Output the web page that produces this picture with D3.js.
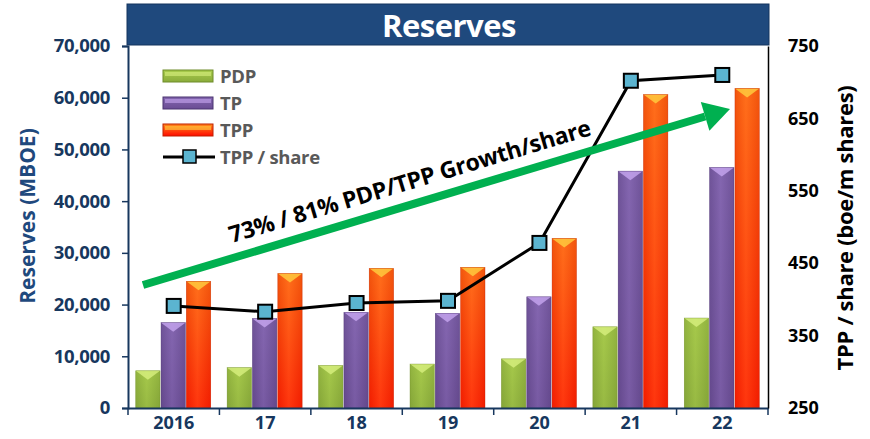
<!DOCTYPE html>
<html>
<head>
<meta charset="utf-8">
<script src="https://cdn.jsdelivr.net/npm/d3@7"></script>
<style>
  body { margin: 0; background: #fff; }
  text { font-family: "Open Sans", "DejaVu Sans", sans-serif; font-weight: bold; }
</style>
</head>
<body>
<svg id="chart" width="870" height="439"></svg>
<script>
const years = ["2016", "17", "18", "19", "20", "21", "22"];
const pdp = [7200, 7800, 8200, 8500, 9500, 15700, 17400];
const tp = [16500, 17300, 18500, 18300, 21500, 45800, 46500];
const tpp = [24500, 26000, 27000, 27200, 32800, 60600, 61800];
const tppShare = [391, 383, 395, 398, 478, 702, 710];
const leftTicks = [0, 10000, 20000, 30000, 40000, 50000, 60000, 70000];
const rightTicks = [250, 350, 450, 550, 650, 750];

const svg = d3.select("svg#chart"),
  margin = { top: 46, right: 102, bottom: 31, left: 128 },
  width = +svg.attr("width") - margin.left - margin.right,
  height = +svg.attr("height") - margin.top - margin.bottom;

const navy = "#17375E";
const defs = svg.append("defs");

function barGrad(id, dark, light, top, bottom) {
  const g = defs.append("linearGradient").attr("id", id).attr("x1", 0).attr("x2", 1).attr("y1", 0).attr("y2", 0);
  g.append("stop").attr("offset", "0%").attr("stop-color", dark);
  g.append("stop").attr("offset", "45%").attr("stop-color", light);
  g.append("stop").attr("offset", "100%").attr("stop-color", dark);
  const v = defs.append("linearGradient").attr("id", id + "v").attr("x1", 0).attr("x2", 0).attr("y1", 0).attr("y2", 1);
  v.append("stop").attr("offset", "0%").attr("stop-color", top);
  v.append("stop").attr("offset", "100%").attr("stop-color", bottom);
}
barGrad("gPdp", "#7f9f35", "#a4c64a", "#a9cc4c", "#8aab3b");
barGrad("gTp", "#5e4485", "#8466b0", "#8466b0", "#6a4d94");
barGrad("gTpp", "#e62a00", "#ff5a1a", "#ff8a1c", "#ff0a00");

const series = [
  { key: "PDP", values: pdp, grad: "gPdp", cap: "#d8f080", edge: "#6f8c2a" },
  { key: "TP", values: tp, grad: "gTp", cap: "#c7a6f0", edge: "#4b3470" },
  { key: "TPP", values: tpp, grad: "gTpp", cap: "#ffd040", edge: "#c02000" }
];

const chartG = svg.append("g").attr("transform", `translate(${margin.left}, ${margin.top})`);

const x = d3.scaleBand().domain(years).range([0, width]).paddingInner(0).paddingOuter(0);
const xs = d3.scaleBand().domain(series.map(d => d.key)).range([0, 76]);
const y = d3.scaleLinear().domain([0, 70000]).range([height, 0]);
const y2 = d3.scaleLinear().domain([250, 750]).range([height, 0]);

// title box
svg.append("rect").attr("x", 127).attr("y", 4).attr("width", 642).attr("height", 41)
  .attr("fill", "#1F497D").attr("stroke", "#15355e");
svg.append("text").attr("x", 449).attr("y", 37).attr("text-anchor", "middle")
  .attr("fill", "white").style("font-size", "31px").style("letter-spacing", "-0.5px").text("Reserves");

// bars
series.forEach(s => {
  const g = chartG.append("g");
  years.forEach((yr, i) => {
    const bx = x(yr) + x.bandwidth() / 2 - 38 + xs(s.key);
    const bw = xs.bandwidth() - 1;
    const by = y(s.values[i]);
    const bh = height - by;
    g.append("rect").attr("x", bx).attr("y", by).attr("width", bw).attr("height", bh)
      .attr("fill", `url(#${s.grad}v)`);
    g.append("rect").attr("x", bx).attr("y", by).attr("width", bw).attr("height", bh)
      .attr("fill", `url(#${s.grad})`).attr("opacity", 0.55);
    g.append("path")
      .attr("d", `M${bx},${by} L${bx + bw},${by} L${bx + bw / 2},${by + 9} Z`)
      .attr("fill", s.cap).attr("opacity", 0.8);
    g.append("rect").attr("x", bx).attr("y", by).attr("width", bw).attr("height", bh)
      .attr("fill", "none").attr("stroke", s.edge).attr("stroke-width", 0.6).attr("stroke-opacity", 0.6);
  });
});

// green arrow
const arrowFrom = [143, 285], arrowTo = [730, 109];
const ang = Math.atan2(arrowTo[1] - arrowFrom[1], arrowTo[0] - arrowFrom[0]);
const headLen = 26, headW = 15;
const bx0 = arrowTo[0] - headLen * Math.cos(ang), by0 = arrowTo[1] - headLen * Math.sin(ang);
svg.append("line").attr("x1", arrowFrom[0]).attr("y1", arrowFrom[1]).attr("x2", bx0).attr("y2", by0)
  .attr("stroke", "#00B050").attr("stroke-width", 8);
svg.append("path")
  .attr("d", `M${arrowTo[0]},${arrowTo[1]} L${bx0 + headW * Math.sin(ang)},${by0 - headW * Math.cos(ang)} L${bx0 - headW * Math.sin(ang)},${by0 + headW * Math.cos(ang)} Z`)
  .attr("fill", "#00B050");
svg.append("text")
  .attr("transform", `translate(412, 189) rotate(${ang * 180 / Math.PI})`)
  .attr("text-anchor", "middle").attr("fill", "#000").style("font-size", "23px")
  .style("letter-spacing", "-0.3px")
  .text("73% / 81% PDP/TPP Growth/share");

// line
const line = d3.line().x((d, i) => x(years[i]) + x.bandwidth() / 2).y(d => y2(d));
chartG.append("path").datum(tppShare).attr("d", line)
  .attr("fill", "none").attr("stroke", "#000").attr("stroke-width", 3);
chartG.selectAll(".mk").data(tppShare).join("rect").attr("class", "mk")
  .attr("x", (d, i) => x(years[i]) + x.bandwidth() / 2 - 7).attr("y", d => y2(d) - 7)
  .attr("width", 14).attr("height", 14).attr("fill", "#5BB4D0").attr("stroke", "#000").attr("stroke-width", 2);

// axes
const xAxis = d3.axisBottom(x).tickSize(0).tickPadding(8);
chartG.append("g").attr("transform", `translate(0, ${height})`).call(xAxis)
  .call(g => {
    g.select(".domain").attr("stroke", navy).attr("stroke-width", 2);
    g.selectAll(".tick text").attr("fill", navy).style("font-size", "18px")
      .style("font-family", "'Open Sans', sans-serif").style("font-weight", "bold");
  });
chartG.append("g").selectAll("line").data(years.concat(["end"])).join("line")
  .attr("x1", (d, i) => i * x.step()).attr("x2", (d, i) => i * x.step())
  .attr("y1", height).attr("y2", height + 7).attr("stroke", navy).attr("stroke-width", 1.5);

const yAxis = d3.axisLeft(y).tickValues(leftTicks).tickSize(6).tickPadding(12).tickFormat(d3.format(","));
chartG.append("g").call(yAxis)
  .call(g => {
    g.select(".domain").attr("stroke", navy).attr("stroke-width", 2);
    g.selectAll(".tick line").attr("stroke", navy).attr("stroke-width", 1.5);
    g.selectAll(".tick text").attr("fill", navy).style("font-size", "18.5px")
      .style("letter-spacing", "-0.3px")
      .style("font-family", "'Open Sans', sans-serif").style("font-weight", "bold");
  });

const yAxis2 = d3.axisRight(y2).tickValues(rightTicks).tickSize(0).tickPadding(20);
chartG.append("g").attr("transform", `translate(${width}, 0)`).call(yAxis2)
  .call(g => {
    g.select(".domain").attr("stroke", "#000").attr("stroke-width", 1.5);
    g.selectAll(".tick text").attr("fill", "#000").style("font-size", "18px")
      .style("font-family", "'Open Sans', sans-serif").style("font-weight", "bold");
  });

// axis titles
svg.append("text").attr("transform", "translate(35, 216) rotate(-90)").attr("text-anchor", "middle")
  .attr("fill", "#1F497D").style("font-size", "21px").text("Reserves (MBOE)");
svg.append("text").attr("transform", "translate(853, 228) rotate(-90)").attr("text-anchor", "middle")
  .attr("fill", "#000").style("font-size", "22px").style("letter-spacing", "-0.3px")
  .text("TPP / share (boe/m shares)");

// legend
const legend = svg.append("g").attr("transform", "translate(163, 70)");
series.forEach((s, i) => {
  const ly = i * 27;
  legend.append("rect").attr("x", 0).attr("y", ly).attr("width", 50).attr("height", 12)
    .attr("fill", `url(#${s.grad}v)`).attr("stroke", s.edge).attr("stroke-width", 1);
  legend.append("rect").attr("x", 2).attr("y", ly + 2).attr("width", 46).attr("height", 4)
    .attr("fill", s.cap).attr("opacity", 0.6);
  legend.append("text").attr("x", 57).attr("y", ly + 13).attr("fill", "#595959")
    .style("font-size", "18.5px").style("letter-spacing", "-0.3px").text(s.key);
});
legend.append("line").attr("x1", 0).attr("x2", 52).attr("y1", 87).attr("y2", 87)
  .attr("stroke", "#000").attr("stroke-width", 3);
legend.append("rect").attr("x", 20).attr("y", 80).attr("width", 13).attr("height", 13)
  .attr("fill", "#5BB4D0").attr("stroke", "#000").attr("stroke-width", 1.5);
legend.append("text").attr("x", 57).attr("y", 94).attr("fill", "#595959")
  .style("font-size", "18.5px").style("letter-spacing", "-0.3px").text("TPP / share");
</script>
</body>
</html>
